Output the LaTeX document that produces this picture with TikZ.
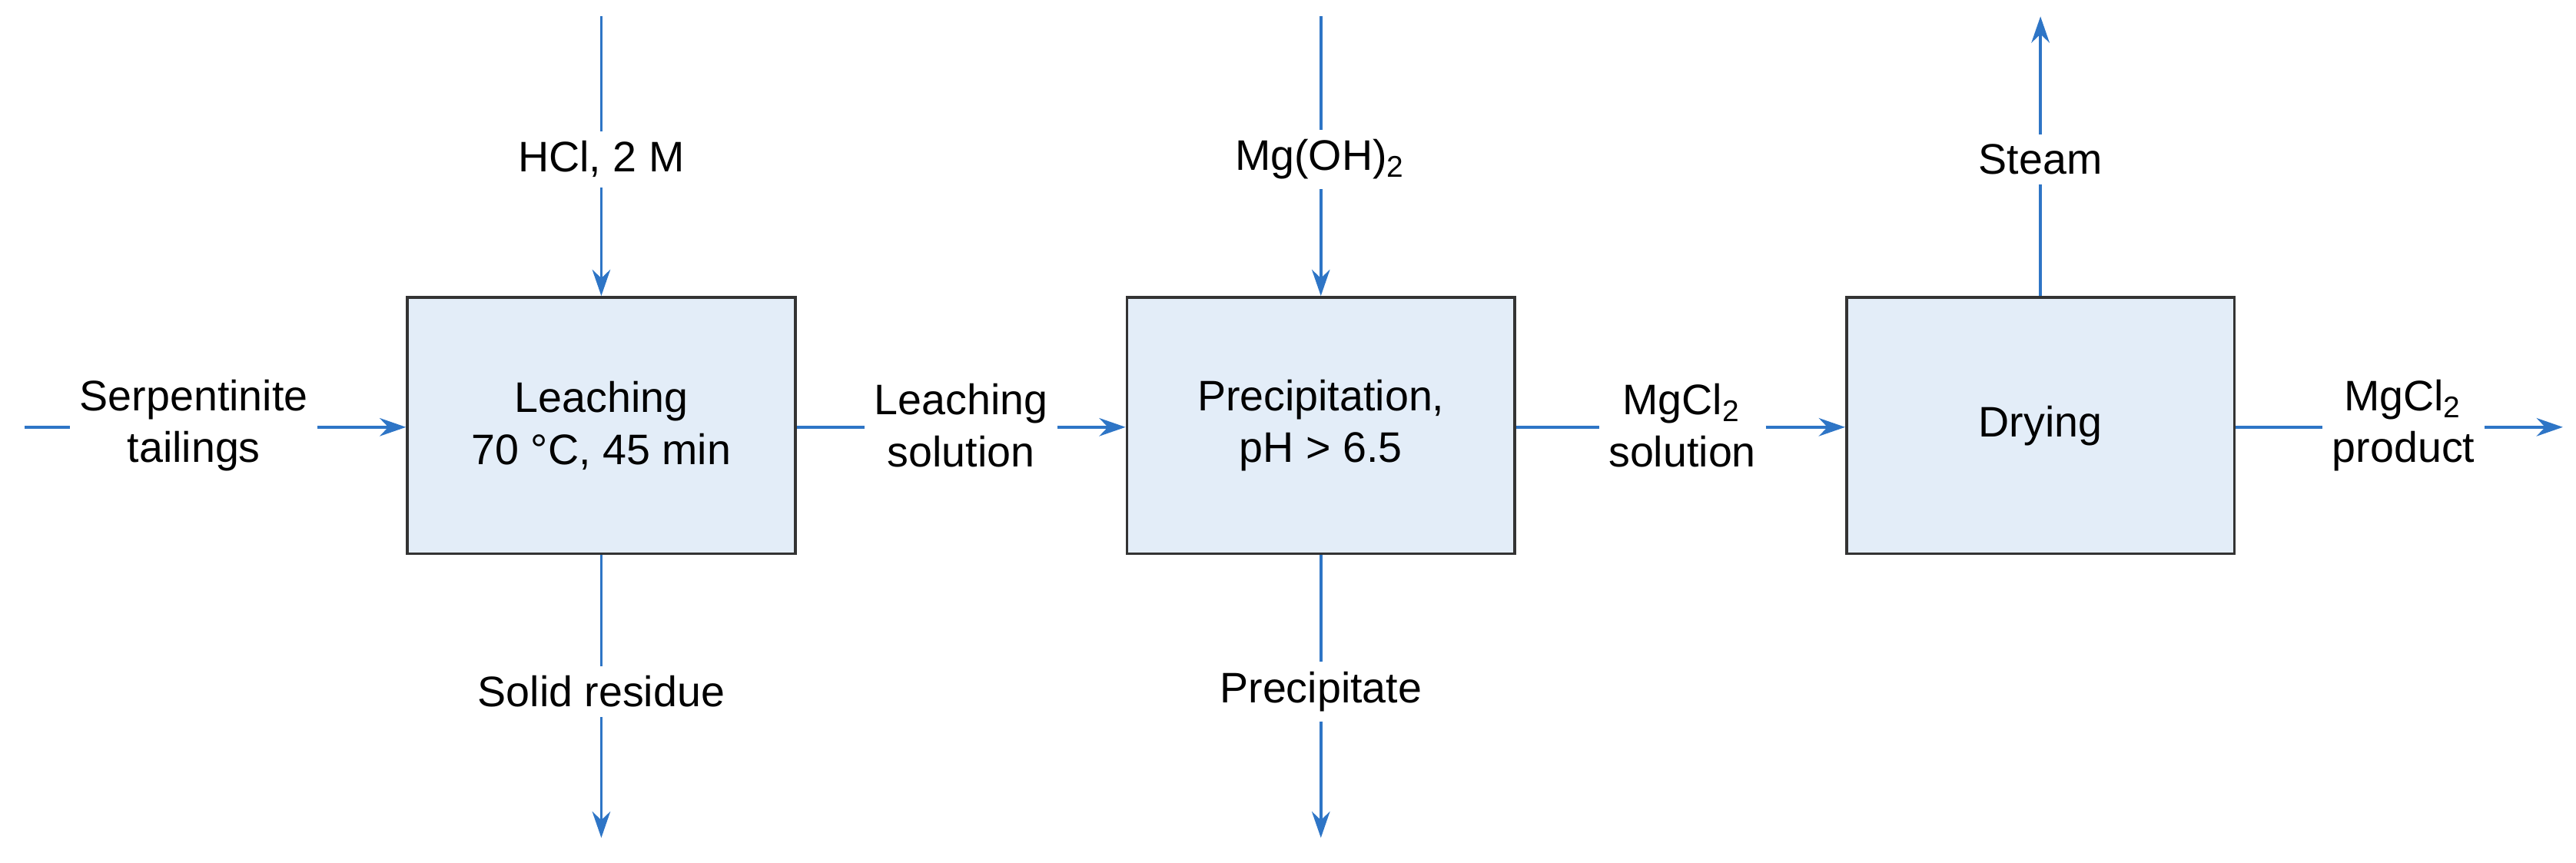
\documentclass[tikz,border=0pt]{standalone}
\usepackage{fontspec}
\setmainfont{Liberation Sans}
\usetikzlibrary{positioning,arrows.meta}
\definecolor{flowblue}{HTML}{2E75C6}
\definecolor{boxfill}{HTML}{E3EDF8}
\tikzset{
  unit/.style={draw=black!80, fill=boxfill, line width=0.5pt, minimum width=2.36cm, minimum height=1.56cm, align=center, font=\fontsize{7.4}{9}\selectfont},
  stream/.style={align=center, inner sep=1.5pt, font=\fontsize{7.4}{9}\selectfont},
  flow/.style={draw=flowblue, line width=0.5pt},
  flowto/.style={flow, -{Stealth[length=1.6mm,width=1.1mm]}}
}
\begin{document}
\begin{tikzpicture}
\useasboundingbox (0,0) rectangle (15.68,5.25);
% process units
\node[unit] (leach) at (3.66,2.66) {Leaching\\70 °C, 45 min};
\node[unit] (precip) at (8.04,2.66) {Precipitation,\\pH > 6.5};
\node[unit] (dry) at (12.42,2.66) {Drying};
% stream labels
\node[stream] (feed) at (1.18,2.66) {Serpentinite\\tailings};
\node[stream] (hcl) at (3.66,4.28) {HCl, 2 M};
\node[stream] (resid) at (3.66,1.04) {Solid residue};
\node[stream] (lsol) at (5.85,2.66) {Leaching\\solution};
\node[stream] (mgoh) at (8.04,4.28) {Mg(OH)\textsubscript{2}};
\node[stream] (ppt) at (8.04,1.04) {Precipitate};
\node[stream] (msol) at (10.24,2.66) {MgCl\textsubscript{2}\\solution};
\node[stream] (steam) at (12.42,4.28) {Steam};
\node[stream] (prod) at (14.63,2.66) {MgCl\textsubscript{2}\\product};
% free ends
\coordinate (feedin) at (0.15,2.65);
\coordinate (hclin) at (3.66,5.15);
\coordinate (residout) at (3.66,0.15);
\coordinate (mgohin) at (8.04,5.15);
\coordinate (pptout) at (8.04,0.15);
\coordinate (steamout) at (12.42,5.15);
\coordinate (prodout) at (15.6,2.65);
% streams
\draw[flow] (feedin) -- (feed.west |- feedin);
\draw[flowto] (feed.east |- feedin) -- (leach.west |- feedin);
\draw[flow] (hclin) -- (hcl);
\draw[flowto] (hcl) -- (leach);
\draw[flow] (leach) -- (resid);
\draw[flowto] (resid) -- (residout);
\draw[flow] (leach.east |- feedin) -- (lsol.west |- feedin);
\draw[flowto] (lsol.east |- feedin) -- (precip.west |- feedin);
\draw[flow] (mgohin) -- (mgoh);
\draw[flowto] (mgoh) -- (precip);
\draw[flow] (precip) -- (ppt);
\draw[flowto] (ppt) -- (pptout);
\draw[flow] (precip.east |- feedin) -- (msol.west |- feedin);
\draw[flowto] (msol.east |- feedin) -- (dry.west |- feedin);
\draw[flow] (dry) -- (steam);
\draw[flowto] (steam) -- (steamout);
\draw[flow] (dry.east |- feedin) -- (prod.west |- feedin);
\draw[flowto] (prod.east |- feedin) -- (prodout);
\end{tikzpicture}
\end{document}
